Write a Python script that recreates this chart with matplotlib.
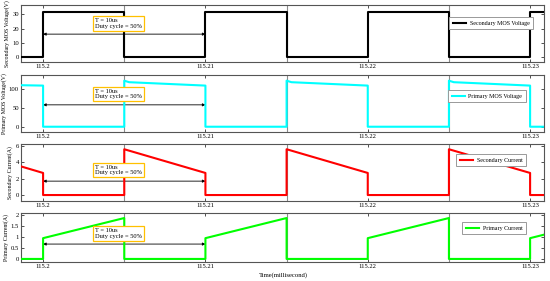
import numpy as np
import matplotlib.pyplot as plt

plt.rcParams['font.family'] = ['Liberation Serif', 'DejaVu Serif']

# time axis (millisecond)
t_start = 115.19864
t_end = 115.23086
x_ticks = [115.2, 115.21, 115.22, 115.23]
x_tick_labels = ['115.2', '115.21', '115.22', '115.23']
period_marks = [115.205, 115.215, 115.225]

# secondary MOS voltage (V)
t_sec_v = [t_start, 115.2, 115.2, 115.205, 115.205, 115.21, 115.21, 115.215, 115.215,
           115.22, 115.22, 115.225, 115.225, 115.23, 115.23, t_end]
sec_v = [0, 0, 32, 32, 0, 0, 32, 32, 0, 0, 32, 32, 0, 0, 32, 32]

# primary MOS voltage (V)
t_pri_v = [t_start, 115.2, 115.2, 115.205, 115.205, 115.2053, 115.21, 115.21, 115.215,
           115.215, 115.2153, 115.22, 115.22, 115.225, 115.225, 115.2253, 115.23, 115.23, t_end]
pri_v = [110, 109, 0, 0, 122, 118, 109, 0, 0, 122, 118, 109, 0, 0, 122, 118, 109, 0, 0]

# secondary current (A)
t_sec_i = [t_start, 115.2, 115.2, 115.205, 115.205, 115.21, 115.21, 115.215, 115.215,
           115.22, 115.22, 115.225, 115.225, 115.23, 115.23, t_end]
sec_i = [3.5, 2.7, 0, 0, 5.6, 2.7, 0, 0, 5.6, 2.7, 0, 0, 5.6, 2.7, 0, 0]

# primary current (A)
t_pri_i = [t_start, 115.2, 115.2, 115.205, 115.205, 115.21, 115.21, 115.215, 115.215,
           115.22, 115.22, 115.225, 115.225, 115.23, 115.23, t_end]
pri_i = [0, 0, 0.95, 1.87, 0, 0, 0.95, 1.87, 0, 0, 0.95, 1.87, 0, 0, 0.95, 1.11]

panels = [
    dict(t=t_sec_v, y=sec_v, color='black', label='Secondary MOS Voltage',
         ylabel='Secondary MOS Voltage(V)', ylim=(-3.8, 36.7), yticks=[0, 10, 20, 30],
         yticklabels=['0', '10', '20', '30'], arrow_y=16, box_y=0.675,
         leg=(0.985, 0.84), rect=[0.0382, 0.7794, 0.951, 0.2028]),
    dict(t=t_pri_v, y=pri_v, color='#00FFFF', label='Primary MOS Voltage',
         ylabel='Primary MOS Voltage(V)', ylim=(-14, 137), yticks=[0, 50, 100],
         yticklabels=['0', '50', '100'], arrow_y=58, box_y=0.667,
         leg=(0.971, 0.79), rect=[0.0382, 0.5302, 0.951, 0.2028]),
    dict(t=t_sec_i, y=sec_i, color='#FF0000', label='Secondary Current',
         ylabel='Secondary Current(A)', ylim=(-0.73, 6.24), yticks=[0, 2, 4, 6],
         yticklabels=['0', '2', '4', '6'], arrow_y=1.7, box_y=0.544,
         leg=(0.971, 0.877), rect=[0.0382, 0.2847, 0.951, 0.2028]),
    dict(t=t_pri_i, y=pri_i, color='#00FF00', label='Primary Current',
         ylabel='Primary Current(A)', ylim=(-0.14, 2.1), yticks=[0, 0.5, 1, 1.5, 2],
         yticklabels=['0', '0.5', '1', '1.5', '2'], arrow_y=0.68, box_y=0.58,
         leg=(0.971, 0.88), rect=[0.0382, 0.0676, 0.951, 0.1744]),
]

fig = plt.figure(figsize=(5.5, 2.81), dpi=100)

for p in panels:
    ax = fig.add_axes(p['rect'])
    for xm in period_marks:
        ax.axvline(xm, color='#8c8c8c', lw=0.8, zorder=0)
    ax.plot(p['t'], p['y'], color=p['color'], lw=1.5, label=p['label'], zorder=3)
    ax.set_xlim(t_start, t_end)
    ax.set_ylim(*p['ylim'])
    ax.set_xticks(x_ticks)
    ax.set_xticklabels(x_tick_labels)
    ax.set_yticks(p['yticks'])
    ax.set_yticklabels(p['yticklabels'])
    ax.tick_params(direction='in', length=2.5, width=0.6, labelsize=4.8, pad=1.5,
                   top=True, right=True, color='#333333')
    for s in ax.spines.values():
        s.set_color('#555555')
        s.set_linewidth(0.8)
    ax.set_ylabel(p['ylabel'], fontsize=4.2, labelpad=1.5)

    # period arrow + annotation box
    ax.annotate('', xy=(115.2, p['arrow_y']), xytext=(115.21, p['arrow_y']),
                arrowprops=dict(arrowstyle='<|-|>', color='black', lw=0.6,
                                mutation_scale=4, shrinkA=0, shrinkB=0), zorder=2)
    ax.text(0.142, p['box_y'], 'T = 10us\nDuty cycle = 50%', transform=ax.transAxes,
            fontsize=4.6, ha='left', va='center', linespacing=1.1, zorder=4,
            bbox=dict(boxstyle='square,pad=0.35', fc='white', ec='#FFC000', lw=0.9))

    leg = ax.legend(loc='upper right', bbox_to_anchor=p['leg'], fontsize=4.3,
                    fancybox=False, framealpha=1, edgecolor='#999999',
                    handlelength=2.2, borderpad=0.6, handletextpad=0.6)
    leg.get_frame().set_linewidth(0.7)

fig.text(0.515, 0.022, 'Time(millisecond)', fontsize=4.8, ha='center', va='center')

fig.savefig('out.png', dpi=100)
